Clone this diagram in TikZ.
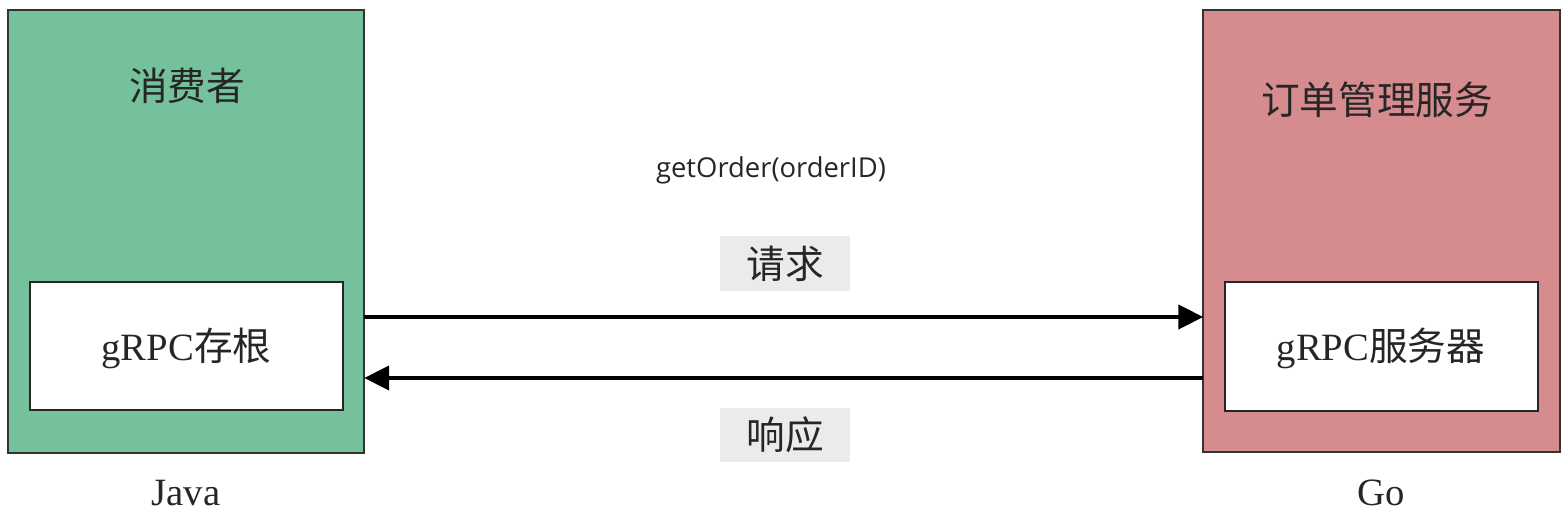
\documentclass[tikz,border=0pt]{standalone}
\usepackage{fontspec}
\setmainfont{Liberation Serif}
\newfontfamily\cjk{Noto Sans CJK SC}
\newfontfamily\uifont{Open Sans}
\usetikzlibrary{arrows.meta}
\definecolor{consumergreen}{RGB}{117,193,155}
\definecolor{servicered}{RGB}{214,139,143}
\definecolor{taggray}{RGB}{235,235,235}
\begin{document}
\begin{tikzpicture}[x=0.02cm, y=-0.02cm,
    outerbox/.style={draw=black!80, line width=1pt, inner sep=0pt, outer sep=0pt, minimum width=7.13cm, minimum height=8.85cm},
    innerbox/.style={draw=black!85, fill=white, line width=1pt, inner sep=0pt, outer sep=0pt, minimum width=6.26cm, minimum height=2.57cm},
    bigtext/.style={font=\fontsize{22}{26}\selectfont, text=black!85},
    tag/.style={fill=taggray, inner sep=0pt, minimum width=2.6cm, minimum height=1.09cm, font=\fontsize{22}{26}\selectfont\cjk, text=black!85},
    arr/.style={line width=2.4pt, -{Triangle[length=0.5cm, width=0.48cm]}}]
    \useasboundingbox (0,0) rectangle (1568,523);
    % left side: consumer
    \node[outerbox, fill=consumergreen] (consumer) at (186,231.5) {};
    \node[bigtext] (consumertitle) at (187,86) {\cjk 消费者};
    \node[innerbox] (stub) at (186.5,346) {};
    \node[bigtext] (stubtext) at (186.5,348) {gRPC\cjk 存根};
    \node[bigtext] (java) at (186,493) {Java};
    % right side: order service
    \node[outerbox, fill=servicered] (service) at (1381.5,231) {};
    \node[bigtext] (servicetitle) at (1377,100) {\cjk 订单管理服务};
    \node[innerbox] (server) at (1381.5,346.5) {};
    \node[bigtext] (servertext) at (1381,348) {gRPC\cjk 服务器};
    \node[bigtext] (go) at (1381,493) {Go};
    % call in between
    \node[font=\fontsize{15.6}{18}\selectfont\uifont, text=black!85] (call) at (771,170) {getOrder(orderID)};
    \node[tag] (request) at (785,263.5) {请求};
    \node[tag] (response) at (785,435) {响应};
    \draw[arr] (consumer.east |- 0,317) -- (service.west |- 0,317);
    \draw[arr] (service.west |- 0,378) -- (consumer.east |- 0,378);
\end{tikzpicture}
\end{document}
